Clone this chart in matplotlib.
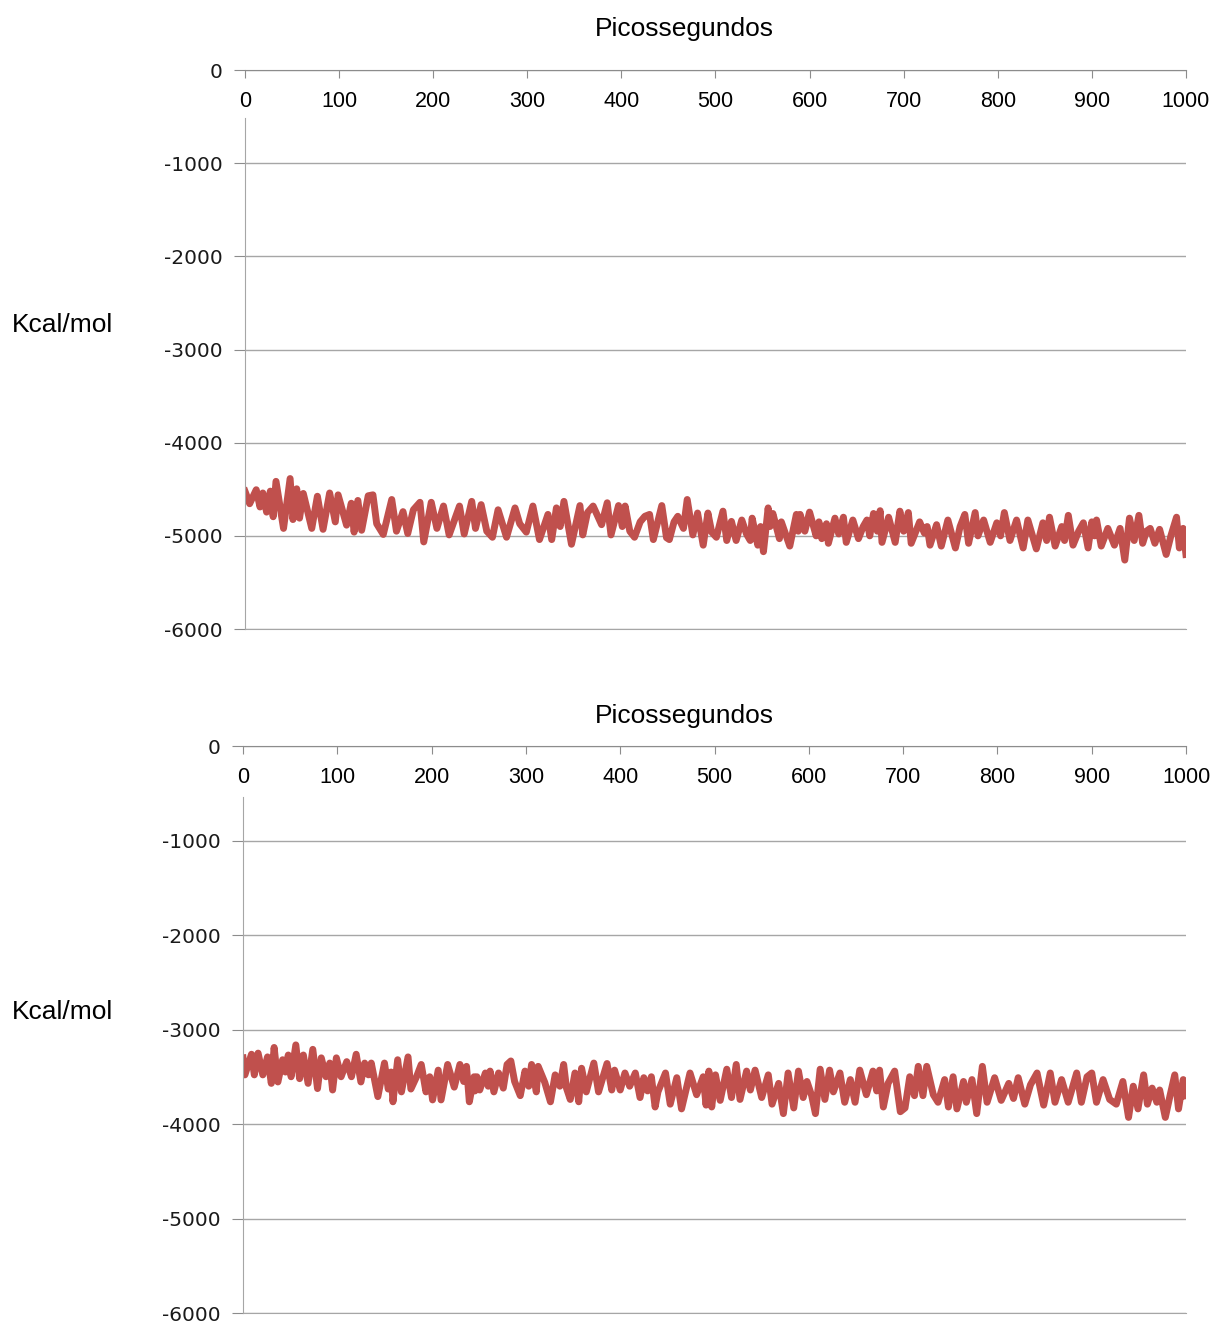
import matplotlib.pyplot as plt

#  ------- data -------  #
t_top = [0, 5, 12, 16, 19, 23, 27, 30, 33, 41, 48, 51, 55, 58, 62, 71, 77, 83, 90, 96,
         99, 108, 113, 116, 120, 124, 131, 136, 140, 147, 156, 161, 168, 173, 179, 186, 190, 198, 204, 211,
         217, 228, 233, 241, 245, 251, 257, 263, 269, 278, 287, 292, 299, 306, 313, 322, 326, 331, 335, 339,
         347, 356, 359, 364, 370, 379, 385, 389, 397, 401, 404, 409, 414, 420, 425, 430, 434, 443, 448, 451,
         456, 460, 466, 470, 476, 481, 487, 492, 496, 501, 508, 512, 517, 522, 528, 533, 537, 539, 545, 548,
         551, 556, 558, 561, 568, 570, 579, 586, 588, 590, 595, 600, 607, 610, 613, 618, 620, 627, 631, 636,
         639, 646, 652, 657, 661, 664, 668, 672, 675, 677, 684, 691, 696, 700, 705, 708, 717, 722, 725, 728,
         735, 740, 747, 755, 760, 765, 769, 776, 779, 785, 792, 799, 803, 807, 813, 820, 827, 832, 841, 848,
         852, 855, 861, 868, 871, 875, 880, 886, 891, 896, 900, 903, 905, 910, 917, 924, 930, 935, 940, 945,
         950, 954, 958, 962, 967, 972, 979, 984, 990, 993, 997, 1000]
e_top = [-4520, -4655, -4505, -4690, -4540, -4745, -4520, -4795, -4415, -4920, -4385, -4825, -4495, -4810, -4545, -4920, -4575, -4930, -4540, -4850,
         -4560, -4885, -4650, -4960, -4620, -4940, -4570, -4560, -4870, -4985, -4610, -4950, -4740, -4975, -4720, -4640, -5065, -4640, -4920, -4680,
         -4990, -4680, -4980, -4630, -4920, -4665, -4950, -5015, -4720, -5015, -4700, -4870, -4960, -4680, -5040, -4770, -5040, -4700, -4900, -4630,
         -5090, -4675, -4990, -4750, -4680, -4880, -4645, -4990, -4675, -4900, -4680, -4950, -5015, -4850, -4790, -4770, -5040, -4675, -5020, -5040,
         -4850, -4790, -4920, -4610, -4990, -4755, -5100, -4755, -4960, -5015, -4735, -5050, -4845, -5050, -4830, -4980, -5050, -4810, -5100, -4900,
         -5170, -4700, -4900, -4760, -5030, -4850, -5110, -4770, -4950, -4770, -4950, -4745, -5000, -4850, -5030, -4870, -5080, -4810, -4980, -4800,
         -5070, -4830, -5030, -4900, -4830, -5000, -4760, -4950, -4730, -5070, -4800, -5070, -4735, -4950, -4750, -5080, -4850, -4970, -4900, -5100,
         -4880, -5110, -4830, -5130, -4900, -4770, -5080, -4750, -5000, -4830, -5070, -4860, -5000, -4750, -5050, -4830, -5130, -4830, -5140, -4860,
         -5050, -4800, -5110, -4900, -5050, -4780, -5100, -4950, -4860, -5130, -4850, -5000, -4830, -5110, -4920, -5100, -4920, -5260, -4810, -5050,
         -4780, -5080, -4950, -4920, -5080, -4930, -5200, -5000, -4800, -5130, -4920, -5200]

t_bot = [0, 2, 9, 12, 16, 21, 26, 30, 33, 37, 42, 45, 48, 51, 56, 60, 64, 69, 74, 79,
         83, 88, 92, 95, 99, 104, 110, 115, 120, 125, 129, 133, 136, 143, 150, 154, 157, 159, 164, 168,
         175, 178, 184, 189, 194, 198, 201, 207, 210, 217, 224, 230, 234, 237, 240, 245, 246, 248, 251, 257,
         260, 262, 266, 271, 276, 280, 284, 288, 294, 299, 303, 306, 311, 313, 320, 326, 331, 336, 340, 343,
         347, 352, 356, 359, 364, 372, 377, 386, 391, 394, 400, 405, 410, 416, 421, 425, 429, 433, 437, 440,
         448, 453, 460, 465, 474, 481, 488, 491, 494, 497, 501, 506, 513, 518, 523, 527, 534, 538, 543, 550,
         557, 561, 568, 573, 578, 584, 589, 594, 598, 603, 607, 612, 617, 622, 626, 633, 638, 644, 649, 654,
         661, 668, 672, 675, 679, 684, 691, 697, 702, 707, 712, 716, 721, 725, 732, 737, 744, 748, 753, 757,
         764, 767, 773, 778, 784, 789, 797, 804, 812, 817, 822, 829, 835, 842, 849, 856, 861, 868, 875, 884,
         889, 895, 900, 905, 912, 919, 926, 933, 939, 944, 949, 955, 959, 964, 969, 972, 978, 983, 988, 992,
         997, 1000]
e_bot = [-3300, -3480, -3262, -3480, -3250, -3480, -3290, -3570, -3190, -3555, -3320, -3450, -3270, -3500, -3163, -3520, -3270, -3570, -3210, -3625,
         -3300, -3500, -3355, -3640, -3300, -3500, -3340, -3500, -3262, -3555, -3355, -3480, -3355, -3710, -3355, -3630, -3450, -3765, -3320, -3660,
         -3290, -3630, -3500, -3370, -3660, -3500, -3745, -3430, -3745, -3370, -3610, -3370, -3550, -3390, -3765, -3500, -3650, -3500, -3640, -3460,
         -3600, -3440, -3660, -3460, -3620, -3370, -3333, -3550, -3700, -3440, -3600, -3370, -3660, -3390, -3560, -3765, -3480, -3600, -3370, -3620,
         -3740, -3460, -3765, -3410, -3660, -3355, -3660, -3360, -3640, -3430, -3640, -3460, -3600, -3460, -3720, -3510, -3650, -3500, -3820, -3660,
         -3460, -3790, -3510, -3840, -3460, -3690, -3500, -3800, -3440, -3820, -3480, -3750, -3420, -3720, -3370, -3740, -3440, -3640, -3430, -3720,
         -3480, -3790, -3570, -3890, -3460, -3830, -3440, -3720, -3550, -3700, -3890, -3420, -3740, -3430, -3660, -3460, -3770, -3530, -3770, -3430,
         -3690, -3440, -3650, -3430, -3820, -3570, -3440, -3870, -3830, -3500, -3700, -3390, -3700, -3390, -3690, -3770, -3530, -3820, -3500, -3840,
         -3550, -3770, -3530, -3890, -3390, -3770, -3510, -3750, -3570, -3730, -3510, -3790, -3585, -3460, -3800, -3460, -3770, -3530, -3770, -3460,
         -3770, -3500, -3460, -3770, -3530, -3740, -3790, -3550, -3930, -3600, -3840, -3480, -3790, -3620, -3770, -3640, -3930, -3700, -3480, -3840,
         -3530, -3700]

x_ticks = [0, 100, 200, 300, 400, 500, 600, 700, 800, 900, 1000]
y_ticks = [0, -1000, -2000, -3000, -4000, -5000, -6000]
x_title = 'Picossegundos'
y_title = 'Kcal/mol'

line_color = '#C0504D'
axis_gray = '#8C8C8C'
grid_gray = '#A6A6A6'

plt.rcParams['axes.unicode_minus'] = False

fig = plt.figure(figsize=(12.12, 13.22), dpi=100)


def energy_panel(rect, t, e, spine_top):
    ax = fig.add_axes(rect)
    ax.plot(t, e, color=line_color, linewidth=5, solid_joinstyle='round')
    ax.set_xlim(0, 1000)
    ax.set_ylim(-6000, 0)
    ax.set_xticks(x_ticks)
    ax.set_yticks(y_ticks)
    ax.set_xticklabels([str(v) for v in x_ticks], fontfamily='Liberation Sans', fontsize=15.5)
    ax.set_yticklabels([str(v) for v in y_ticks], fontfamily='DejaVu Sans', fontsize=14.5)
    ax.tick_params(axis='x', top=True, bottom=False, labeltop=True, labelbottom=False,
                   direction='in', length=6, color=axis_gray, pad=-30)
    ax.tick_params(axis='y', direction='out', length=8, color=axis_gray, pad=8, labelcolor='#1a1a1a')
    ax.grid(axis='y', color=grid_gray, linewidth=1)
    ax.set_axisbelow(True)
    ax.spines['right'].set_visible(False)
    ax.spines['top'].set_color(axis_gray)
    ax.spines['bottom'].set_color(grid_gray)
    ax.spines['left'].set_color(grid_gray)
    ax.spines['left'].set_bounds(-6000, spine_top)
    return ax


energy_panel([0.2021, 0.5242, 0.7764, 0.4228], t_top, e_top, -515)
energy_panel([0.2005, 0.0068, 0.7781, 0.4289], t_bot, e_bot, -540)

fig.text(684 / 1212, 1 - 29 / 1322, x_title, ha='center', va='center', fontsize=19, family='Liberation Sans')
fig.text(684 / 1212, 1 - 716 / 1322, x_title, ha='center', va='center', fontsize=19, family='Liberation Sans')
fig.text(12 / 1212, 1 - 325 / 1322, y_title, ha='left', va='center', fontsize=19, family='Liberation Sans')
fig.text(12 / 1212, 1 - 1012 / 1322, y_title, ha='left', va='center', fontsize=19, family='Liberation Sans')

fig.savefig('out.png', dpi=100, facecolor='white')
